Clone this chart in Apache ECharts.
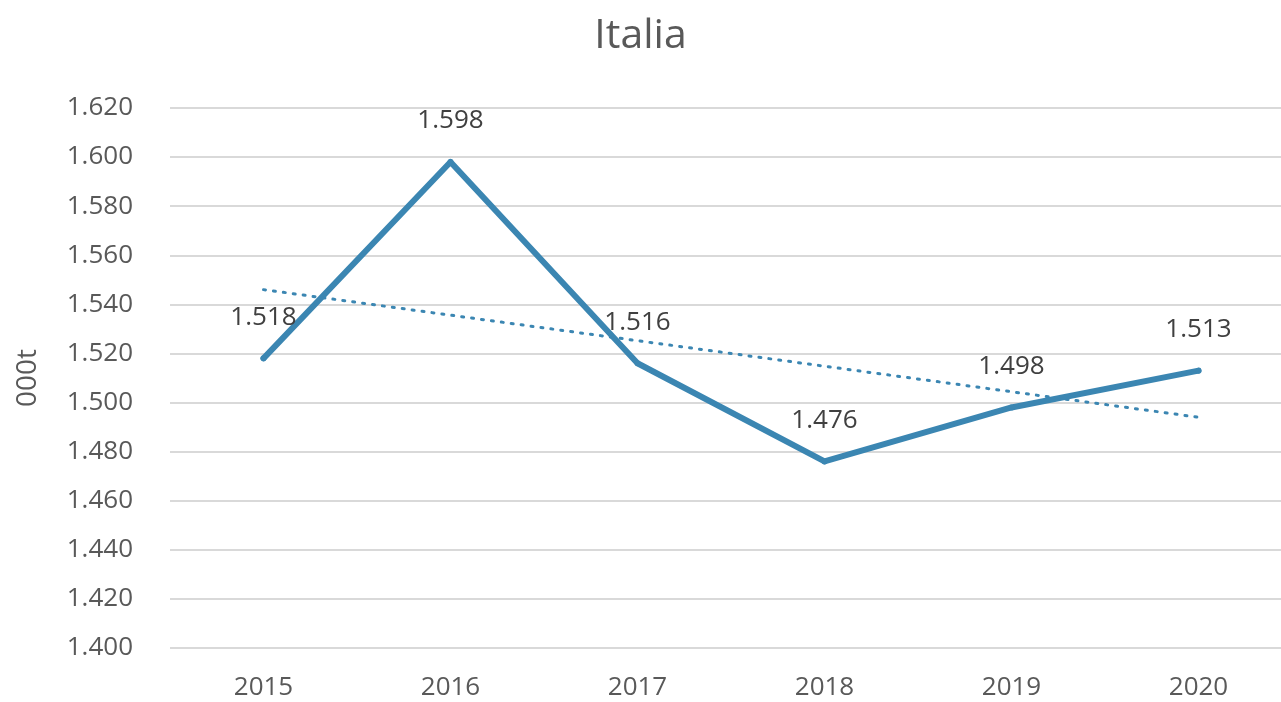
<!DOCTYPE html>
<html>
<head>
<meta charset="utf-8">
<script src="https://cdn.jsdelivr.net/npm/echarts@6/dist/echarts.min.js"></script>
<style>
html,body{margin:0;padding:0;background:#fff;}
#c{width:1281px;height:702px;}
</style>
</head>
<body>
<div id="c"></div>
<script>
const titleText = 'Italia';
const yAxisName = '000t';
const categories = ['2015', '2016', '2017', '2018', '2019', '2020'];
const values = [1518, 1598, 1516, 1476, 1498, 1513];
const trendValues = [1546, null, null, null, null, 1494];

function fmt(v) {
  const s = String(Math.round(v));
  return s.replace(/\B(?=(\d{3})+(?!\d))/g, '.');
}

const FONT = '"Open Sans", "DejaVu Sans", sans-serif';
const LINE = '#3b86b2';
const chart = echarts.init(document.getElementById('c'));
chart.setOption({
  animation: false,
  backgroundColor: '#ffffff',
  title: {
    text: titleText,
    left: 'center',
    top: 11,
    textStyle: { fontFamily: FONT, fontSize: 41, fontWeight: 'normal', color: '#595959' }
  },
  grid: { left: 170, right: -11, top: 108, bottom: 54, containLabel: false, outerBoundsMode: 'none' },
  xAxis: {
    type: 'category',
    data: categories,
    boundaryGap: true,
    axisLine: { show: false },
    axisTick: { show: false },
    axisLabel: { fontFamily: FONT, fontSize: 26, color: '#595959', margin: 27 }
  },
  yAxis: {
    type: 'value',
    min: 1400,
    max: 1620,
    interval: 20,
    name: yAxisName,
    nameLocation: 'middle',
    nameGap: 128,
    nameRotate: 90,
    nameTextStyle: { fontFamily: FONT, fontSize: 28, color: '#595959' },
    axisLine: { show: false },
    axisTick: { show: false },
    splitLine: { lineStyle: { color: '#d9d9d9', width: 2 } },
    axisLabel: { fontFamily: FONT, fontSize: 26, color: '#595959', margin: 37, formatter: fmt }
  },
  series: [
    {
      type: 'line',
      data: values,
      symbol: 'circle',
      symbolSize: 6,
      showSymbol: true,
      itemStyle: { color: LINE },
      lineStyle: { color: LINE, width: 6, join: 'round', cap: 'round' },
      label: {
        show: true,
        position: 'top',
        distance: 25,
        fontFamily: FONT,
        fontSize: 26,
        color: '#404040',
        formatter: p => fmt(p.value)
      },
      z: 3
    },
    {
      type: 'line',
      data: trendValues,
      connectNulls: true,
      symbol: 'none',
      lineStyle: { color: LINE, width: 3, type: [2, 8], cap: 'round' },
      z: 2
    }
  ]
});
</script>
</body>
</html>
